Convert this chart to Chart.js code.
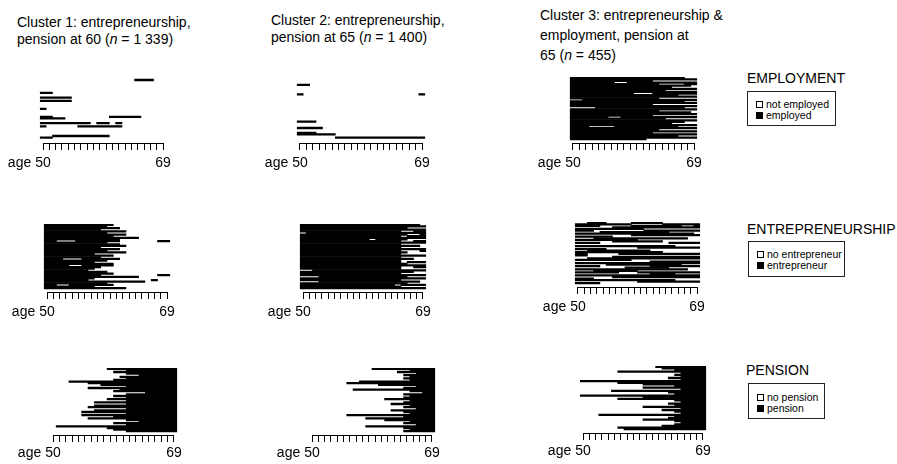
<!DOCTYPE html>
<html>
<head>
<meta charset="utf-8">
<script src="https://cdn.jsdelivr.net/npm/chart.js@4.4.1/dist/chart.umd.min.js"></script>
<style>
  body { margin: 0; background: #fff; width: 897px; height: 464px; position: relative; overflow: hidden;
         font-family: "Liberation Sans", Arial, sans-serif; color: #000; }
  canvas { position: absolute; }
  .t { position: absolute; font-size: 14px; white-space: nowrap; }
  .lt { position: absolute; font-size: 14px; line-height: 16px; white-space: nowrap; }
  .box { position: absolute; border: 1px solid #222; box-sizing: border-box; }
  .it { position: absolute; left: 8px; font-size: 10.5px; line-height: 12px; padding-left: 10px; white-space: nowrap; }
  .sq { position: absolute; left: 0; top: 3px; width: 7px; height: 7px; border: 1px solid #000; box-sizing: border-box; background: #fff; }
  .sq.b { background: #000; }
</style>
</head>
<body>

<div class="t" style="left:17px;top:14px;line-height:17px">Cluster 1: entrepreneurship,<br>pension at 60 (<i>n</i> = 1 339)</div>
<div class="t" style="left:271px;top:12px;line-height:17px">Cluster 2: entrepreneurship,<br>pension at 65 (<i>n</i> = 1 400)</div>
<div class="t" style="left:540px;top:5px;line-height:20px">Cluster 3: entrepreneurship &amp;<br>employment, pension at<br>65 (<i>n</i> = 455)</div>

<div class="lt" style="left:747px;top:70px">EMPLOYMENT</div>
<div class="box" style="left:747px;top:91px;width:89px;height:35px">
  <div class="it" style="top:6px"><span class="sq"></span>not employed</div>
  <div class="it" style="top:17px"><span class="sq b"></span>employed</div>
</div>

<div class="lt" style="left:747px;top:221px">ENTREPRENEURSHIP</div>
<div class="box" style="left:748px;top:241px;width:97px;height:36px">
  <div class="it" style="top:6px"><span class="sq"></span>no entrepreneur</div>
  <div class="it" style="top:17px"><span class="sq b"></span>entrepreneur</div>
</div>

<div class="lt" style="left:746px;top:362px">PENSION</div>
<div class="box" style="left:748px;top:383px;width:77px;height:36px">
  <div class="it" style="top:7px"><span class="sq"></span>no pension</div>
  <div class="it" style="top:18px"><span class="sq b"></span>pension</div>
</div>

<script>
// ages on the x axis
const ages = [50, 51, 52, 53, 54, 55, 56, 57, 58, 59, 60, 61, 62, 63, 64, 65, 66, 67, 68, 69];
const Z = '00000000000000000000';

// one string per sequence (top to bottom), one char per age: 1 = state shown in black
const employment1 = [
  Z, Z, '00000000000000011100', Z, Z, Z, Z, Z, Z, Z,
  '11000000000000000000', Z, Z, '11111000000000000000', Z, '11111000000000000000', Z, Z, Z, Z,
  '10000000000000000000', Z, Z, Z, Z, '11000000000111110000', '11110000000000000000', Z, Z, '11111111011010000000',
  Z, '10000011111110000000', Z, Z, Z, Z, Z, '00111111111000000000', '11000000000000000000', Z
];
const employment2 = [
  Z, Z, Z, Z, Z, '11000000000000000000', Z, Z, Z, Z,
  Z, '10000000000000000001', Z, Z, Z, Z, Z, Z, Z, Z,
  Z, Z, Z, Z, Z, Z, Z, Z, '11100000000000000000', Z,
  Z, Z, '11110000000000000000', Z, Z, '11100000000000000000', '11111100000000000000', Z, '00000011111111111111', Z
];
const employment3 = [
  '11111111111111111100', '11111111111111111111', '11111111111110000000', '11111110011111111111',
  '11111111111111000011', '11111111111111111110', '11111111111111110000', '11111111111111111111',
  '11111111111111100000', '11111111111111111111', '11111111110001111111', '11111111111111111000',
  '11111111111111111111', '11111111111111000000', '00111111111111111111', '11111111111111111100',
  '11111111111111111111', '11111111111110000000', '11111111111111111111', '00001111111111111100',
  '11111111111111111111', '11111111111111000000', '11111111111111111110', '11111111111111111111',
  '11111111111110000000', '11111100111111111111', '11111111111111100000', '11111111111111111111',
  '11111111111111111100', '11111111111111110000', '11111111111111111111', '11100001111111111000',
  '11111111111111111111', '11111111111111000000', '11111111111111111111', '11111111111110000000',
  '11111111111111111111', '11111111111111111000', '11111111111111111111', '11111111111100000000'
];
const entrepreneurship1 = [
  '11111111111000000000', '11111111110000000000', '11111111111100000000', '11111111100000000000',
  '11111111111110000000', '11111111110000000000', '11111111111110000000', '11111111111000000000',
  '11111111111111100000', '11111111111100000000', '11000111111100000011', '11111111110000000000',
  '11111111111100000000', '11111111111110000000', '11111111100000000000', '11111111111100000000',
  '11111111110000000000', '11111111111110000000', '11111111000000000000', '11111111111000000000',
  '11111111100000000000', '11100011111100000000', '11111111110000000000', '11111111000000000000',
  '11111111111000000000', '11110011111000000000', '11111111100000000000', '11111111000000000000',
  '11111110000000000000', '11111111110000000000', '11111111111000000000', '11111111100000000011',
  '11111111111111100000', '11111111000000000000', '11111110000000000100', '11111111111111110000',
  '11111111110000000000', '11001111111000000000', '11111111000000000000', '11111111111110000000'
];
const entrepreneurship2 = [
  '11111111111111111110', '11111111111111111111', '11111111111111111000', '11111111111111111111',
  '11111111111111110011', '01111111111111111111', '11111111111111111001', '11111111111111110111',
  '11111111111111111111', '11111111111011111000', '11111111111111110011', '11111111111111111111',
  '11111111111111110000', '11111111111111111110', '11111111111111110000', '11111111111111111111',
  '11111111111111110001', '11111111111111111000', '11111111111111110000', '11111111111111111111',
  '11111111111111110000', '11111111111111111100', '11111111111111110000', '11111111111111110111',
  '11111111111111111000', '11111111111111111111', '11111111111111110011', '11111111111111110000',
  '00111111111111111111', '11111111111111111100', '11111111111111110000', '11111111111111111111',
  '00011111111111111000', '11111111111111111111', '11111111111111110000', '00011111111111111110',
  '11111111111111111000', '11111111111111101111', '11111111111111110000', '11111111111111111111'
];
const entrepreneurship3 = [
  '00111000011111000000', '11111111100000111111', '11110000011111111001', '00000011111111111111',
  '11111111111000000000', '11100000000111111111', '00001111111111100000', '11111111111111111110',
  '00000000011111111111', '11111100000000000000', '00011111111111111100', '11111111110000000000',
  '00000011111111000000', '11110000000000011111', '00000000000000000000', '11111111111111110000',
  '00000000001111111111', '11111000000000000000', '00111111111100000000', '11111111111111000000',
  '11000001111111111111', '11000000000000000000', '00000011111111111111', '00111111111111111111',
  '11111111100000000000', '00000000000011111111', '11111111111111111111', '00000111111111111000',
  '11110000000011111111', '00000000111111100000', '11111111111111111100', '00011111110000000000',
  '11111110001111111111', '00000000000011110000', '11111111111111111111', '00000011111111111111',
  '11100000000000000000', '11111111111111110000', '00000000001111111111', '11110000000000000000'
];
// pension is absorbing: age at which each sequence enters pension
const pensionStart1 = [59, 62, 60, 62, 64, 61, 62, 60, 53, 56, 58, 62, 56, 61, 60, 65, 62, 60, 62, 59,
                       62, 57, 62, 57, 56, 62, 57, 55, 62, 55, 60, 56, 62, 64, 60, 62, 51, 59, 60, 62];
const pensionStart2 = [60, 66, 64, 67, 65, 66, 65, 66, 58, 56, 61, 67, 65, 57, 66, 68, 65, 66, 65, 62,
                       66, 65, 63, 66, 65, 67, 63, 65, 66, 56, 65, 59, 62, 66, 65, 67, 59, 65, 66, 65];
const pensionStart3 = [62, 63, 65, 56, 66, 65, 66, 64, 66, 50, 56, 60, 65, 60, 66, 55, 64, 65, 50, 60,
                       56, 65, 66, 64, 65, 60, 66, 63, 65, 66, 53, 65, 64, 60, 65, 66, 65, 63, 56, 57];

// string -> list of [firstAge, lastAge] black runs
function runs(code) {
  code = code.padEnd(ages.length, '0').slice(0, ages.length);
  const out = [];
  let s = null;
  for (let i = 0; i < ages.length; i++) {
    if (code[i] === '1' && s === null) s = ages[i];
    if (code[i] !== '1' && s !== null) { out.push([s, ages[i - 1]]); s = null; }
  }
  if (s !== null) out.push([s, ages[ages.length - 1]]);
  return out;
}
const fromStart = a => [[a, ages[ages.length - 1]]];

const FONT = '"Liberation Sans", Arial, sans-serif';

// layout: x of tick 50 and 69, top of plot, y of axis line
const panels = [
  { rows: employment1.map(runs),       x50: 43,  x69: 163, top: 76,  axis: 143, pad: 5 },
  { rows: employment2.map(runs),       x50: 300, x69: 422, top: 76,  axis: 143, pad: 5 },
  { rows: employment3.map(runs),       x50: 573, x69: 694, top: 77,  axis: 143, pad: 5 },
  { rows: entrepreneurship1.map(runs), x50: 47,  x69: 167, top: 224, axis: 292, pad: 5 },
  { rows: entrepreneurship2.map(runs), x50: 303, x69: 423, top: 224, axis: 292, pad: 5 },
  { rows: entrepreneurship3.map(runs), x50: 578, x69: 697, top: 222, axis: 287, pad: 5 },
  { rows: pensionStart1.map(fromStart), x50: 53,  x69: 174, top: 368, axis: 435, pad: 3 },
  { rows: pensionStart2.map(fromStart), x50: 312, x69: 432, top: 368, axis: 435, pad: 3 },
  { rows: pensionStart3.map(fromStart), x50: 583, x69: 703, top: 366, axis: 433, pad: 3 }
];

const ageAxis = {
  id: 'ageAxis',
  afterDraw(chart) {
    const s = chart.scales.x;
    const ctx = chart.ctx;
    const al = p => Math.round(p - 0.5) + 0.5;
    const y = al(s.top);
    const x0 = al(s.getPixelForValue(ages[0]));
    const x1 = al(s.getPixelForValue(ages[ages.length - 1]));
    ctx.save();
    ctx.strokeStyle = '#000';
    ctx.lineWidth = 1;
    ctx.beginPath();
    ctx.moveTo(x0, y);
    ctx.lineTo(x1, y);
    ctx.stroke();
    const opts = s.options;
    ctx.font = '14px ' + FONT;
    ctx.fillStyle = '#000';
    ctx.textAlign = 'right';
    ctx.textBaseline = 'middle';
    const w = ctx.measureText(String(ages[0])).width;
    ctx.fillText('age', s.getPixelForValue(ages[0]) - w / 2 - 4, s.top + opts.grid.tickLength + opts.ticks.padding + 14 * 1.2 / 2);
    ctx.restore();
  }
};

panels.forEach(p => {
  const step = (p.x69 - p.x50) / (ages.length - 1);
  const L = p.x50 - step / 2;
  const R = p.x69 + step / 2;
  const cl = Math.round(L - 45);
  const ct = p.top - 2;
  const cw = Math.round(R - cl + 20);
  const ch = (p.axis - p.top) + 2 + 30;

  const cv = document.createElement('canvas');
  cv.width = cw; cv.height = ch;
  cv.style.left = cl + 'px'; cv.style.top = ct + 'px';
  cv.style.width = cw + 'px'; cv.style.height = ch + 'px';
  document.body.appendChild(cv);

  const n = p.rows.length;
  const rowH = (p.axis - p.top - 3) / n;
  const nSeg = Math.max(...p.rows.map(r => r.length));
  const datasets = [];
  for (let j = 0; j < nSeg; j++) {
    const data = [];
    p.rows.forEach((r, i) => {
      if (r[j]) data.push({ x: [r[j][0] - 0.5, r[j][1] + 0.5], y: i });
    });
    datasets.push({
      data,
      backgroundColor: '#000',
      borderWidth: 0,
      barPercentage: 1,
      categoryPercentage: 1,
      grouped: false
    });
  }

  new Chart(cv, {
    type: 'bar',
    data: { datasets },
    options: {
      indexAxis: 'y',
      responsive: false,
      animation: false,
      devicePixelRatio: 1,
      events: [],
      layout: { padding: { left: L - cl, right: cw - (R - cl), top: 2, bottom: 0 } },
      plugins: { legend: { display: false }, tooltip: { enabled: false } },
      scales: {
        x: {
          type: 'linear',
          min: ages[0] - 0.5,
          max: ages[ages.length - 1] + 0.5,
          afterBuildTicks: s => { s.ticks = ages.map(v => ({ value: v })); },
          afterFit: s => { s.height = 30; },
          border: { display: false },
          grid: { drawOnChartArea: false, drawTicks: true, tickLength: 7, color: '#000', lineWidth: 1 },
          ticks: {
            autoSkip: false, maxRotation: 0, padding: p.pad, color: '#000',
            font: { family: FONT, size: 14 },
            callback: v => (v === ages[0] || v === ages[ages.length - 1]) ? String(v) : ''
          }
        },
        y: {
          type: 'linear',
          display: false,
          reverse: true,
          offset: false,
          grid: { offset: false },
          min: -0.5,
          max: n - 0.5 + 3 / rowH,
          afterBuildTicks: s => { s.ticks = p.rows.map((_, i) => ({ value: i })); }
        }
      }
    },
    plugins: [ageAxis]
  });
});
</script>
</body>
</html>
